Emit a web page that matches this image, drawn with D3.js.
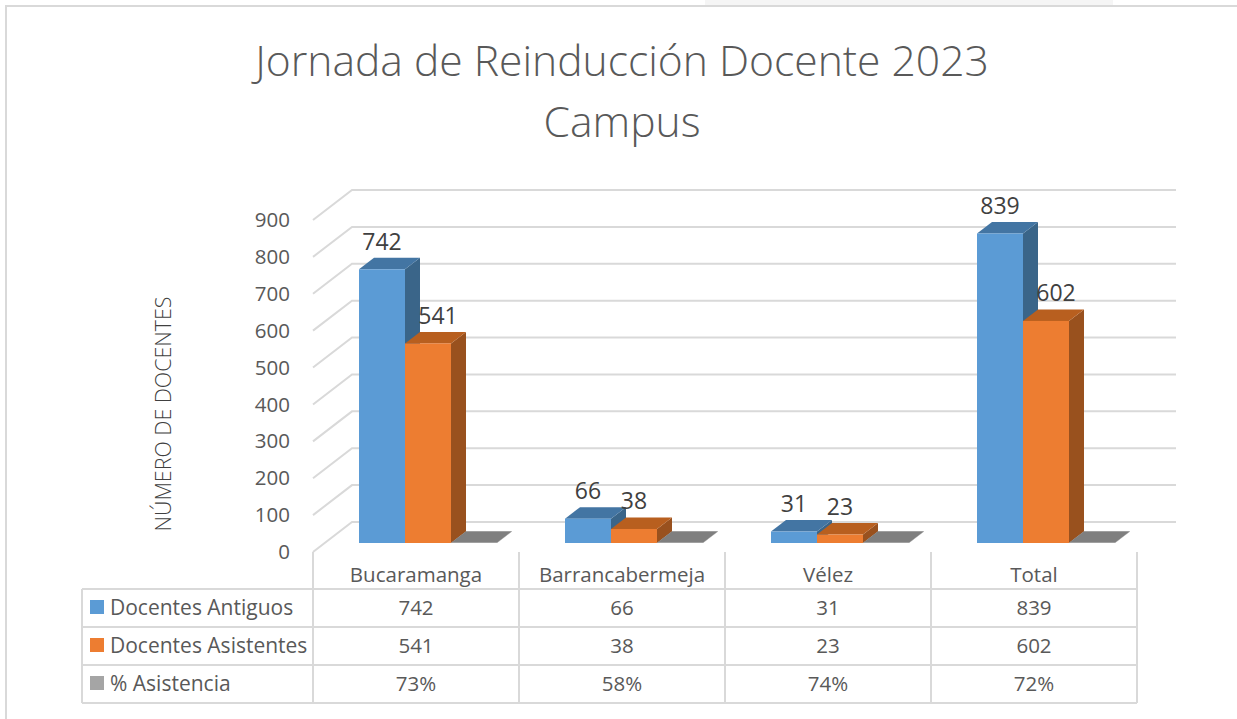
<!DOCTYPE html>
<html>
<head>
<meta charset="utf-8">
<script src="https://cdn.jsdelivr.net/npm/d3@7"></script>
<style>
  html, body { margin: 0; padding: 0; background: #fff; overflow: hidden; }
  text { font-family: "Open Sans", sans-serif; fill: #595959; }
</style>
</head>
<body>
<div id="chart"></div>
<script>
const categories = ['Bucaramanga', 'Barrancabermeja', 'Vélez', 'Total'];
const seriesNames = ['Docentes Antiguos', 'Docentes Asistentes', '% Asistencia'];
const antiguos = [742, 66, 31, 839];
const asistentes = [541, 38, 23, 602];
const asistencia = [0.73, 0.58, 0.74, 0.72];
const yTicks = [0, 100, 200, 300, 400, 500, 600, 700, 800, 900];
const titleLines = ['Jornada de Reinducción Docente 2023', 'Campus'];

const width = 1237;
const height = 719;

const frontColors = ['#5b9bd5', '#ed7d31', '#a5a5a5'];
const topColors = ['#4375a3', '#b85f1f', '#7f7f7f'];
const sideColors = ['#3a6589', '#99511e', '#6e6e6e'];
const gridColor = '#d9d9d9';

const svg = d3.select('#chart').append('svg')
    .attr('width', width)
    .attr('height', height);

// page strip and chart frame
svg.append('rect').attr('x', 705).attr('y', 0).attr('width', 408).attr('height', 5).attr('fill', '#f5f5f5');
svg.append('path')
    .attr('d', 'M6,719V6H1237')
    .attr('fill', 'none')
    .attr('stroke', gridColor)
    .attr('stroke-width', 2);

// Title
svg.selectAll('.title')
    .data(titleLines)
    .enter()
    .append('text')
    .attr('class', 'title')
    .attr('x', 622)
    .attr('y', (d, i) => 76 + i * 61)
    .attr('text-anchor', 'middle')
    .style('font-size', '42.6px')
    .style('font-weight', 300)
    .text(d => d);

// Scales: y is the front plane of the wall, x the table columns
const plotLeft = 313;
const plotRight = 1137;
const y = d3.scaleLinear().domain([0, 900]).range([552, 220]);
const x = d3.scaleBand().domain(categories).range([plotLeft, plotRight]);
const wallX = 39;
const wallY = 30;
const gridEnd = 1176;

// Gridlines on the side and back walls
const grid = svg.append('g')
    .attr('fill', 'none')
    .attr('stroke', gridColor)
    .attr('stroke-width', 2);
grid.selectAll('path')
    .data(yTicks)
    .enter()
    .append('path')
    .attr('d', d => `M${plotLeft},${y(d)}L${plotLeft + wallX},${y(d) - wallY}H${gridEnd}`);

// Y axis labels
const yAxis = svg.append('g')
    .attr('transform', `translate(${plotLeft - 8},0)`)
    .call(d3.axisLeft(y).tickValues(yTicks).tickSize(0).tickPadding(15));
yAxis.select('.domain').remove();
yAxis.selectAll('text')
    .style('font-family', '"Open Sans", sans-serif')
    .style('font-size', '20.5px')
    .style('fill', '#595959');

svg.append('text')
    .attr('transform', 'translate(171,414) rotate(-90)')
    .attr('text-anchor', 'middle')
    .style('font-size', '21.4px')
    .style('font-weight', 300)
    .style('fill', '#404040')
    .text('NÚMERO DE DOCENTES');

// Bars
const barInset = 46;
const barWidth = 46;
const depthX = 15;
const depthY = 11.5;
const barBase = 543;
const barHeight = v => y(0) - y(v);
const allSeries = [antiguos, asistentes, asistencia];

categories.forEach((cat, c) => {
    const g = svg.append('g');
    allSeries.forEach((values, s) => {
        const x0 = x(cat) + barInset + s * barWidth;
        const x1 = x0 + barWidth;
        const top = barBase - barHeight(values[c]);
        g.append('path')
            .attr('d', `M${x1},${barBase}V${top}l${depthX},${-depthY}V${barBase - depthY}Z`)
            .attr('fill', sideColors[s]);
        g.append('path')
            .attr('d', `M${x0},${top}H${x1}l${depthX},${-depthY}H${x0 + depthX}Z`)
            .attr('fill', topColors[s]);
        g.append('rect')
            .attr('x', x0)
            .attr('y', top)
            .attr('width', barWidth)
            .attr('height', barBase - top)
            .attr('fill', frontColors[s]);
    });
});

// Data labels (the two tall orange ones sit to the right of the blue bar's side)
[antiguos, asistentes].forEach((values, s) => {
    svg.selectAll('.label' + s)
        .data(values)
        .enter()
        .append('text')
        .attr('x', (d, i) => x(categories[i]) + barInset + s * barWidth + barWidth / 2 + (s === 1 && d > 500 ? 10 : 0))
        .attr('y', d => barBase - barHeight(d) - depthY - 8)
        .attr('text-anchor', 'middle')
        .style('font-size', '23px')
        .style('fill', '#404040')
        .text(d => d);
});

// Data table
const tableLeft = 82;
const rowLines = [589, 627, 665, 703];
const table = svg.append('g').attr('stroke', gridColor).attr('stroke-width', 2).attr('fill', 'none');
rowLines.forEach(r => {
    table.append('line').attr('x1', tableLeft).attr('x2', plotRight).attr('y1', r).attr('y2', r);
});
table.append('line').attr('x1', tableLeft).attr('x2', tableLeft).attr('y1', rowLines[0]).attr('y2', rowLines[3]);
categories.concat(['end']).forEach((cat, i) => {
    const lx = i < categories.length ? x(cat) : plotRight;
    table.append('line').attr('x1', lx).attr('x2', lx).attr('y1', y(0)).attr('y2', rowLines[3]);
});

const fontTable = '20.5px';
svg.selectAll('.cat')
    .data(categories)
    .enter()
    .append('text')
    .attr('x', d => x(d) + x.bandwidth() / 2)
    .attr('y', 582)
    .attr('text-anchor', 'middle')
    .style('font-size', fontTable)
    .text(d => d);

const tableRows = [antiguos, asistentes, asistencia.map(d3.format('.0%'))];
tableRows.forEach((values, s) => {
    const baseline = rowLines[s] + 26;
    svg.append('rect')
        .attr('x', 90)
        .attr('y', rowLines[s] + 11)
        .attr('width', 14)
        .attr('height', 14)
        .attr('fill', frontColors[s]);
    svg.append('text')
        .attr('x', 110)
        .attr('y', baseline)
        .style('font-size', '21px')
        .text(seriesNames[s]);
    svg.selectAll('.cell' + s)
        .data(values)
        .enter()
        .append('text')
        .attr('x', (d, i) => x(categories[i]) + x.bandwidth() / 2)
        .attr('y', baseline)
        .attr('text-anchor', 'middle')
        .style('font-size', fontTable)
        .text(d => d);
});
</script>
</body>
</html>
